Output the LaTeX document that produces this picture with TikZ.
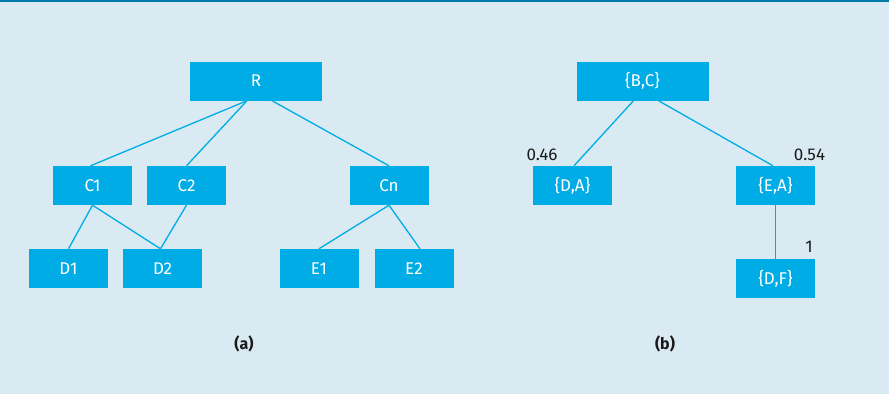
\documentclass[tikz,border=0pt]{standalone}
\usepackage{fontspec}
\setmainfont{Fira Sans}
\definecolor{panel}{HTML}{DAEAF2}
\definecolor{boxblue}{HTML}{00ACE6}
\definecolor{rule}{HTML}{0079A8}
\definecolor{ink}{HTML}{1A1A1A}
\begin{document}
\begin{tikzpicture}[x=1pt,y=-1pt,
  treebox/.style={fill=boxblue,draw=none,inner sep=0pt,minimum width=79pt,minimum height=39pt,
    text=white,font=\fontsize{17}{20}\selectfont},
  widebox/.style={treebox,minimum width=132pt},
  link/.style={draw=boxblue,line width=1.3pt},
  prob/.style={text=ink,inner sep=0pt,font=\fontsize{17}{20}\selectfont},
  caption/.style={text=ink,inner sep=0pt,font=\fontsize{16}{19}\selectfont\bfseries}]
% panel background and top rule
\fill[panel] (0,0) rectangle (889,394);
\useasboundingbox (0,0) rectangle (889,394);
\fill[rule] (0,0) rectangle (889,2.2);

% (a) hierarchy
\node[widebox] (R)  at (256,81) {R};
\node[treebox] (C1) at (92.5,185.5) {C1};
\node[treebox] (C2) at (186.5,185.5) {C2};
\node[treebox] (Cn) at (389,185.5) {Cn};
\node[treebox] (D1) at (68.5,268.5) {D1};
\node[treebox] (D2) at (162.5,268.5) {D2};
\node[treebox] (E1) at (319,268.5) {E1};
\node[treebox] (E2) at (414,268.5) {E2};

\draw[link] ([xshift=-9pt]R.south) -- ([xshift=-2pt]C1.north);
\draw[link] ([xshift=-9pt]R.south) -- (C2.north);
\draw[link] ([xshift=16pt]R.south) -- (Cn.north);
\draw[link] (C1.south) -- (D1.north);
\draw[link] (C1.south) -- ([xshift=-2pt]D2.north);
\draw[link] (C2.south) -- ([xshift=-2pt]D2.north);
\draw[link] (Cn.south) -- (E1.north);
\draw[link] (Cn.south) -- ([xshift=6pt]E2.north);

\node[caption] (capa) at (244,344) {(a)};

% (b) weighted tree
\node[widebox] (BC) at (642.5,81) {\{B,C\}};
\node[treebox] (DA) at (572.5,185.5) {\{D,A\}};
\node[treebox] (EA) at (775.5,185.5) {\{E,A\}};
\node[treebox] (DF) at (775.5,278.5) {\{D,F\}};

\draw[link] ([xshift=-9pt]BC.south) -- ([xshift=1.5pt]DA.north);
\draw[link] ([xshift=16pt]BC.south) -- ([xshift=-2.5pt]EA.north);
\draw[link,line width=1.8pt] (EA.south) -- (DF.north);

\node[prob] (pDA) at (542,155) {0.46};
\node[prob] (pEA) at (809.5,155) {0.54};
\node[prob] (pDF) at (809,247) {1};

\node[caption] (capb) at (665,344) {(b)};
\end{tikzpicture}
\end{document}
